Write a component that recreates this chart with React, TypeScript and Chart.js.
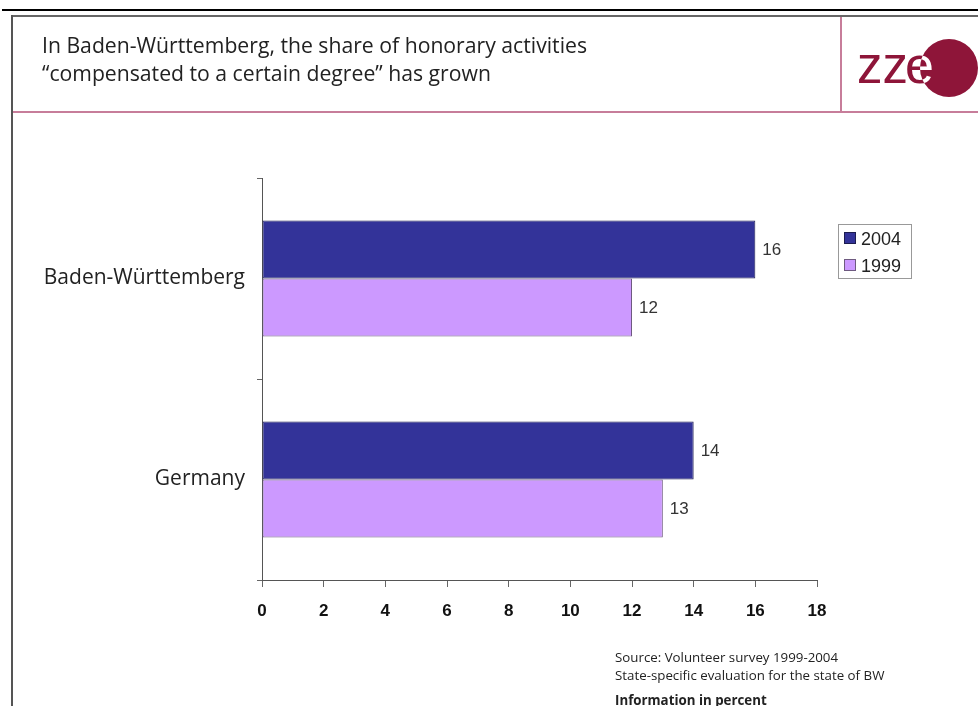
import React, { useEffect, useRef } from "react";
import { Chart, registerables } from "chart.js";

Chart.register(...registerables);

const categories = ["Baden-Württemberg", "Germany"];
const seriesNames = ["2004", "1999"];
const values2004 = [16, 14];
const values1999 = [12, 13];
const seriesColors = ["#333399", "#cc99ff"];
const seriesBorders = ["#1c1c50", "#6e5a80"];
const xMin = 0;
const xMax = 18;
const xStep = 2;

const titleLines = [
  "In Baden-Württemberg, the share of honorary activities",
  "\u201Ccompensated to a certain degree\u201D has grown",
];
const sourceLines = [
  "Source: Volunteer survey 1999-2004",
  "State-specific evaluation for the state of BW",
];
const noteText = "Information in percent";

const valueLabelPlugin = {
  id: "valueLabels",
  afterDatasetsDraw(chart: any) {
    const ctx = chart.ctx;
    ctx.save();
    ctx.font = "17px 'Liberation Sans', Arial, sans-serif";
    ctx.fillStyle = "#333";
    ctx.textAlign = "left";
    ctx.textBaseline = "middle";
    chart.data.datasets.forEach((ds: any, di: number) => {
      const meta = chart.getDatasetMeta(di);
      meta.data.forEach((el: any, i: number) => {
        ctx.fillText(String(ds.data[i]), el.x + 7, el.y + 1);
      });
    });
    ctx.restore();
  },
};

export default function App() {
  const canvasRef = useRef<HTMLCanvasElement | null>(null);

  useEffect(() => {
    const canvas = canvasRef.current;
    if (!canvas) return;
    const chart = new Chart(canvas, {
      type: "bar",
      data: {
        labels: categories,
        datasets: [
          {
            label: seriesNames[0],
            data: values2004,
            backgroundColor: seriesColors[0],
            borderColor: seriesBorders[0],
            borderWidth: 1,
            borderSkipped: false,
          },
          {
            label: seriesNames[1],
            data: values1999,
            backgroundColor: seriesColors[1],
            borderColor: seriesBorders[1],
            borderWidth: 1,
            borderSkipped: false,
          },
        ],
      },
      options: {
        indexAxis: "y",
        responsive: false,
        animation: false,
        devicePixelRatio: 1,
        layout: { padding: { top: 178, right: 161, left: 0, bottom: 0 } },
        categoryPercentage: 0.577,
        barPercentage: 1.0,
        plugins: {
          legend: { display: false },
          tooltip: { enabled: false },
          title: { display: false },
        },
        scales: {
          x: {
            min: xMin,
            max: xMax,
            ticks: {
              stepSize: xStep,
              color: "#111",
              padding: 14,
              font: { family: "'Liberation Sans', Arial, sans-serif", size: 17, weight: "bold" },
            },
            grid: { drawOnChartArea: false, drawTicks: true, tickLength: 7, color: "#666" },
            border: { color: "#555", width: 1 },
            afterFit: (s: any) => {
              s.height = 126;
            },
          },
          y: {
            ticks: {
              color: "#222",
              padding: 12,
              font: { family: "'Open Sans', sans-serif", size: 21 },
            },
            grid: { offset: true, drawOnChartArea: false, drawTicks: true, tickLength: 5, color: "#666" },
            border: { color: "#555", width: 1 },
            afterFit: (s: any) => {
              s.width = 262;
            },
          },
        },
      } as any,
      plugins: [valueLabelPlugin],
    });
    return () => chart.destroy();
  }, []);

  const abs = (o: React.CSSProperties): React.CSSProperties => ({ position: "absolute", ...o });

  return (
    <div style={abs({ left: 0, top: 0, width: 978, height: 706, background: "#fff", overflow: "hidden" })}>
      <canvas ref={canvasRef} width={978} height={706} style={abs({ left: 0, top: 0, width: 978, height: 706 })} />
      {/* frame lines */}
      <div style={abs({ left: 2, top: 9, width: 976, height: 2, background: "#000" })} />
      <div style={abs({ left: 11, top: 15, width: 967, height: 2, background: "#666" })} />
      <div style={abs({ left: 11, top: 15, width: 2, height: 691, background: "#555" })} />
      <div style={abs({ left: 13, top: 111, width: 965, height: 2, background: "#c77d9a" })} />
      <div style={abs({ left: 840, top: 17, width: 2, height: 94, background: "#c77d9a" })} />
      {/* title */}
      <div
        style={abs({
          left: 42,
          top: 31,
          fontFamily: "'Open Sans', sans-serif",
          fontSize: 21.2,
          lineHeight: "28px",
          color: "#222",
          whiteSpace: "nowrap",
          letterSpacing: 0,
        })}
      >
        {titleLines.map((t, i) => (
          <div key={i}>{t}</div>
        ))}
      </div>
      {/* logo */}
      <svg style={abs({ left: 842, top: 17, width: 136, height: 94 })} width={136} height={94}>
        <defs>
          <clipPath id="inCircle">
            <circle cx={107} cy={51} r={29} />
          </clipPath>
          <clipPath id="outCircle">
            <path d="M0 0 H136 V94 H0 Z M107 22 A29 29 0 1 0 107.01 22 Z" clipRule="evenodd" />
          </clipPath>
        </defs>
        <circle cx={107} cy={51} r={29} fill="#8e1539" />
        <text x={15} y={66} fontFamily="'Liberation Sans', Arial, sans-serif" fontSize={51} fill="#8e1539">
          zz
        </text>
        <g clipPath="url(#outCircle)">
          <text x={63} y={66} fontFamily="'Liberation Sans', Arial, sans-serif" fontSize={52} fill="#8e1539">
            e
          </text>
        </g>
        <g clipPath="url(#inCircle)">
          <text x={63} y={66} fontFamily="'Liberation Sans', Arial, sans-serif" fontSize={52} fill="#fff">
            e
          </text>
        </g>
      </svg>
      {/* legend */}
      <div
        style={abs({
          left: 838,
          top: 224,
          width: 72,
          height: 53,
          border: "1px solid #999",
          fontFamily: "'Liberation Sans', Arial, sans-serif",
          fontSize: 18,
          color: "#222",
        })}
      >
        {seriesNames.map((n, i) => (
          <div key={n} style={abs({ left: 5, top: 4 + i * 27, height: 20, lineHeight: "20px", whiteSpace: "nowrap" })}>
            <span
              style={{
                display: "inline-block",
                width: 10,
                height: 10,
                background: seriesColors[i],
                border: `1px solid ${seriesBorders[i]}`,
                marginRight: 5,
                verticalAlign: "middle",
                position: "relative",
                top: -2,
              }}
            />
            {n}
          </div>
        ))}
      </div>
      {/* source */}
      <div
        style={abs({
          left: 615,
          top: 648,
          fontFamily: "'Open Sans', sans-serif",
          fontSize: 13.3,
          lineHeight: "18px",
          color: "#222",
          whiteSpace: "nowrap",
          letterSpacing: 0,
        })}
      >
        {sourceLines.map((t, i) => (
          <div key={i}>{t}</div>
        ))}
        <div style={{ fontWeight: "bold", marginTop: 7 }}>{noteText}</div>
      </div>
    </div>
  );
}
